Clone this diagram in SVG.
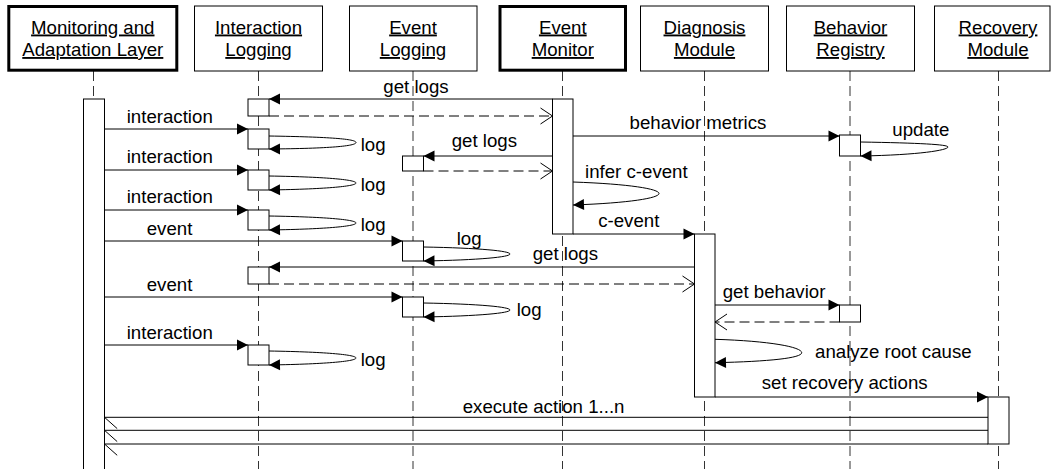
<svg xmlns="http://www.w3.org/2000/svg" width="1051" height="469" viewBox="0 0 1051 469">
<style>
text{font-family:"Liberation Sans",Arial,Helvetica,sans-serif;font-size:18.67px;fill:#000}
.hd{text-anchor:middle;text-decoration:underline}
.box{fill:#fff;stroke:#000;stroke-width:1}
.thick{fill:#fff;stroke:#000;stroke-width:3}
.life{stroke:#333;stroke-width:1;stroke-dasharray:10 5;fill:none}
.msg{stroke:#000;stroke-width:1;fill:none;marker-end:url(#fa)}
.ret{stroke:#000;stroke-width:1;fill:none;stroke-dasharray:10 5;marker-end:url(#oa)}
.exe{stroke:#000;stroke-width:1;fill:none;marker-end:url(#ha)}
.act{fill:#fff;stroke:#000;stroke-width:1}
</style>
<defs>
<marker id="fa" markerUnits="userSpaceOnUse" markerWidth="12" markerHeight="12" refX="11" refY="5.5" orient="auto" overflow="visible"><path d="M0,0 L11,5.5 L0,11 Z" fill="#000"/></marker>
<marker id="oa" markerUnits="userSpaceOnUse" markerWidth="14" markerHeight="18" refX="12" refY="8" orient="auto" overflow="visible"><path d="M0,0 L12,8 L0,16" fill="none" stroke="#000" stroke-width="1"/></marker>
<marker id="ha" markerUnits="userSpaceOnUse" markerWidth="14" markerHeight="14" refX="12.7" refY="11.3" orient="auto" overflow="visible"><path d="M0,0 L12.7,11.3" fill="none" stroke="#000" stroke-width="1"/></marker>
</defs>

<g id="lifelines">
<line class="life" x1="93.5" y1="71" x2="93.5" y2="469"/>
<line class="life" x1="258.5" y1="71" x2="258.5" y2="469"/>
<line class="life" x1="413" y1="71" x2="413" y2="469"/>
<line class="life" x1="562.5" y1="71" x2="562.5" y2="469"/>
<line class="life" x1="704.5" y1="71" x2="704.5" y2="469"/>
<line class="life" x1="850" y1="71" x2="850" y2="469"/>
<line class="life" x1="998.5" y1="71" x2="998.5" y2="469"/>
</g>

<g id="node-monitoring">
<rect class="thick" x="8.8" y="6.5" width="168" height="63.7"/>
<text class="hd" x="92.8" y="33.5">Monitoring and</text>
<text class="hd" x="92.8" y="56">Adaptation Layer</text>
<rect class="act" x="83.5" y="99" width="21" height="380"/>
</g>

<g id="node-interaction-logging">
<rect class="box" x="194.5" y="6" width="128" height="65"/>
<text class="hd" x="258.5" y="33.5">Interaction</text>
<text class="hd" x="258.5" y="56">Logging</text>
<rect class="act" x="248" y="99" width="21" height="17"/>
<rect class="act" x="248" y="129" width="21" height="20"/>
<rect class="act" x="248" y="170" width="21" height="20"/>
<rect class="act" x="248" y="210" width="21" height="20"/>
<rect class="act" x="248" y="267" width="21" height="17"/>
<rect class="act" x="248" y="345" width="21" height="20"/>
</g>

<g id="node-event-logging">
<rect class="box" x="349.5" y="6" width="127.5" height="65"/>
<text class="hd" x="413" y="33.5">Event</text>
<text class="hd" x="413" y="56">Logging</text>
<rect class="act" x="402.5" y="156" width="21" height="15"/>
<rect class="act" x="402.5" y="241" width="21" height="20"/>
<rect class="act" x="402.5" y="297" width="21" height="20"/>
</g>

<g id="node-event-monitor">
<rect class="thick" x="500" y="6.5" width="125.5" height="63.7"/>
<text class="hd" x="562.8" y="33.5">Event</text>
<text class="hd" x="562.8" y="56">Monitor</text>
<rect class="act" x="552.5" y="99" width="20.5" height="135"/>
</g>

<g id="node-diagnosis">
<rect class="box" x="640.5" y="6" width="128" height="65"/>
<text class="hd" x="704.5" y="33.5">Diagnosis</text>
<text class="hd" x="704.5" y="56">Module</text>
<rect class="act" x="694.5" y="234" width="20.5" height="163"/>
</g>

<g id="node-behavior-registry">
<rect class="box" x="786.5" y="6" width="128" height="65"/>
<text class="hd" x="850.5" y="33.5">Behavior</text>
<text class="hd" x="850.5" y="56">Registry</text>
<rect class="act" x="839.5" y="135" width="21" height="21"/>
<rect class="act" x="839.5" y="305" width="21" height="17"/>
</g>

<g id="node-recovery">
<rect class="box" x="934.5" y="6" width="115.5" height="65"/>
<text class="hd" x="998" y="33.5">Recovery</text>
<text class="hd" x="998" y="56">Module</text>
<rect class="act" x="988" y="397" width="21" height="47"/>
</g>

<g id="connectors">
<path class="msg" d="M552.5,99 H269"/>
<path class="ret" d="M269,116 H552.5"/>
<path class="msg" d="M104.5,129 H248"/>
<path class="msg" d="M269,136 C330,137 356,139 356,142.5 C356,146 330,148.5 269,149"/>
<path class="msg" d="M573,136 H839.5"/>
<path class="msg" d="M860.5,142 C920,143 948,144.5 948,147 C948,150 920,155 860.5,156"/>
<path class="msg" d="M552.5,156 H423.5"/>
<path class="ret" d="M423.5,171 H552.5"/>
<path class="msg" d="M104.5,170 H248"/>
<path class="msg" d="M269,176 C330,177 356,180 356,183 C356,186 330,189 269,190"/>
<path class="msg" d="M573,182 C630,184 659,189 659,193.5 C659,198 630,203 573,205"/>
<path class="msg" d="M104.5,210 H248"/>
<path class="msg" d="M269,216 C330,217 356,220 356,223 C356,226 330,229 269,230"/>
<path class="msg" d="M573,234 H694.5"/>
<path class="msg" d="M104.5,241 H402.5"/>
<path class="msg" d="M423.5,247 C480,248 510,251 510,254 C510,257 480,260 423.5,261"/>
<path class="msg" d="M694.5,267 H269"/>
<path class="ret" d="M269,284 H694.5"/>
<path class="msg" d="M104.5,297 H402.5"/>
<path class="msg" d="M423.5,303 C480,304 510,307 510,310 C510,313 480,316 423.5,317"/>
<path class="msg" d="M715,305 H839.5"/>
<path class="ret" d="M839.5,322 H715"/>
<path class="msg" d="M104.5,345 H248"/>
<path class="msg" d="M269,351 C330,352 356,355 356,358 C356,361 330,364 269,365"/>
<path class="msg" d="M715,339.3 C770,341 801.7,347 801.7,352.7 C801.7,358 770,361.5 715,362.7"/>
<path class="msg" d="M715,397 H988"/>
<path class="exe" d="M988,417.3 H104.5"/>
<path class="exe" d="M988,430.3 H104.5"/>
<path class="exe" d="M988,444 H104.5"/>
<text x="416" y="92.5" text-anchor="middle">get logs</text>
<text x="126.7" y="123">interaction</text>
<text x="360.7" y="150.5">log</text>
<text x="698" y="128.5" text-anchor="middle">behavior metrics</text>
<text x="892.3" y="135.5">update</text>
<text x="484.4" y="146.7" text-anchor="middle">get logs</text>
<text x="126.7" y="163.3">interaction</text>
<text x="360.7" y="190.7">log</text>
<text x="585" y="178.3">infer c-event</text>
<text x="126.7" y="203.3">interaction</text>
<text x="360.7" y="230.7">log</text>
<text x="628.8" y="226.7" text-anchor="middle">c-event</text>
<text x="146.7" y="234.5">event</text>
<text x="456.7" y="245">log</text>
<text x="565.4" y="260" text-anchor="middle">get logs</text>
<text x="146.7" y="291">event</text>
<text x="516.7" y="316">log</text>
<text x="722.7" y="298.3">get behavior</text>
<text x="126.7" y="339">interaction</text>
<text x="360.7" y="366">log</text>
<text x="815" y="358.3">analyze root cause</text>
<text x="761.7" y="389.3">set recovery actions</text>
<text x="462.7" y="413">execute action 1...n</text>
</g>
</svg>
